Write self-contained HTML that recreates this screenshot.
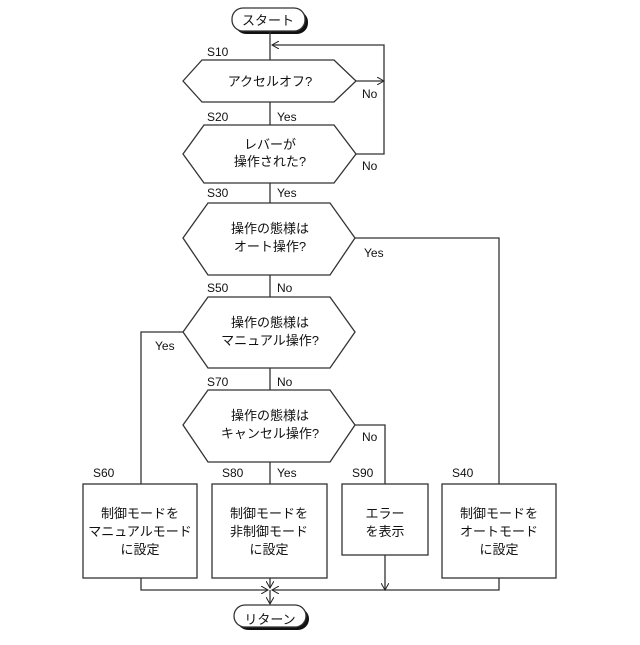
<!DOCTYPE html>
<html><head><meta charset="utf-8"><style>
html,body{margin:0;padding:0;background:#fff}
svg text{font-family:"Liberation Sans","Noto Sans CJK JP",sans-serif;fill:#111}
</style></head><body>
<svg width="640" height="640" viewBox="0 0 640 640" xmlns="http://www.w3.org/2000/svg">
<defs><marker id="a" markerWidth="8" markerHeight="8" refX="7" refY="4" orient="auto" markerUnits="userSpaceOnUse"><path d="M0,0 L7,4 L0,8" fill="none" stroke="#222" stroke-width="1"/></marker></defs>
<g stroke="#333" stroke-width="1.3" fill="none">
<!-- start -->
<rect x="235" y="11" width="73" height="23" rx="11" fill="#111" stroke="none"/>
<rect x="232" y="8" width="73" height="23" rx="11" fill="#fff"/>
<line x1="270" y1="31" x2="270" y2="60"/>
<!-- S10 -->
<polygon points="183,81 202,60 334,60 356,81 334,102 202,102" fill="#fff"/>
<line x1="356" y1="81" x2="384" y2="81" marker-end="url(#a)"/>
<polyline points="356,154 384,154 384,45 272,45" marker-end="url(#a)"/>
<line x1="270" y1="102" x2="270" y2="125"/>
<!-- S20 -->
<polygon points="183,154 204,125 334,125 356,154 334,183 204,183" fill="#fff"/>
<line x1="270" y1="183" x2="270" y2="203"/>
<!-- S30 -->
<polygon points="183,238 208,203 330,203 355,238 330,275 208,275" fill="#fff"/>
<polyline points="355,238 499,238 499,484"/>
<line x1="270" y1="275" x2="270" y2="297"/>
<!-- S50 -->
<polygon points="183,332 208,297 330,297 355,332 330,368 208,368" fill="#fff"/>
<polyline points="183,332 141,332 141,484"/>
<line x1="270" y1="368" x2="270" y2="390"/>
<!-- S70 -->
<polygon points="183,425 208,390 330,390 355,425 330,462 208,462" fill="#fff"/>
<polyline points="355,425 385,425 385,484"/>
<line x1="270" y1="462" x2="270" y2="484"/>
<!-- boxes -->
<rect x="83" y="484" width="114" height="94" fill="#fff"/>
<rect x="212" y="484" width="115" height="94" fill="#fff"/>
<rect x="342" y="484" width="86" height="71" fill="#fff"/>
<rect x="442" y="484" width="114" height="94" fill="#fff"/>
<!-- merge -->
<polyline points="141,578 141,590 268,590" marker-end="url(#a)"/>
<polyline points="499,578 499,590 272,590" marker-end="url(#a)"/>
<line x1="270" y1="578" x2="270" y2="588" marker-end="url(#a)"/>
<line x1="385" y1="555" x2="385" y2="590" marker-end="url(#a)"/>
<line x1="270" y1="590" x2="270" y2="604" marker-end="url(#a)"/>
<!-- return -->
<rect x="237" y="608" width="72" height="22" rx="11" fill="#111" stroke="none"/>
<rect x="234" y="605" width="72" height="22" rx="11" fill="#fff"/>
</g>
<g font-size="13" text-anchor="middle">
<text x="268" y="25">スタート</text>
<text x="270" y="624">リターン</text>
<text x="270" y="86">アクセルオフ?</text>
<text x="270" y="149">レバーが</text><text x="270" y="166">操作された?</text>
<text x="270" y="233">操作の態様は</text><text x="270" y="251">オート操作?</text>
<text x="270" y="327">操作の態様は</text><text x="270" y="345">マニュアル操作?</text>
<text x="270" y="420">操作の態様は</text><text x="270" y="438">キャンセル操作?</text>
<text x="140" y="518">制御モードを</text><text x="140" y="536">マニュアルモード</text><text x="140" y="554">に設定</text>
<text x="269" y="518">制御モードを</text><text x="269" y="536">非制御モード</text><text x="269" y="554">に設定</text>
<text x="385" y="518">エラー</text><text x="385" y="536">を表示</text>
<text x="499" y="518">制御モードを</text><text x="499" y="536">オートモード</text><text x="499" y="554">に設定</text>
</g>
<g font-size="12">
<text x="207" y="56">S10</text>
<text x="362" y="98">No</text>
<text x="207" y="121">S20</text><text x="277" y="121">Yes</text>
<text x="362" y="170">No</text>
<text x="207" y="197">S30</text><text x="277" y="197">Yes</text>
<text x="364" y="257">Yes</text>
<text x="207" y="292">S50</text><text x="277" y="292">No</text>
<text x="155" y="350">Yes</text>
<text x="207" y="386">S70</text><text x="277" y="386">No</text>
<text x="362" y="441">No</text>
<text x="93" y="477">S60</text>
<text x="222" y="477">S80</text><text x="277" y="477">Yes</text>
<text x="352" y="477">S90</text>
<text x="452" y="477">S40</text>
</g>
</svg>
</body></html>
